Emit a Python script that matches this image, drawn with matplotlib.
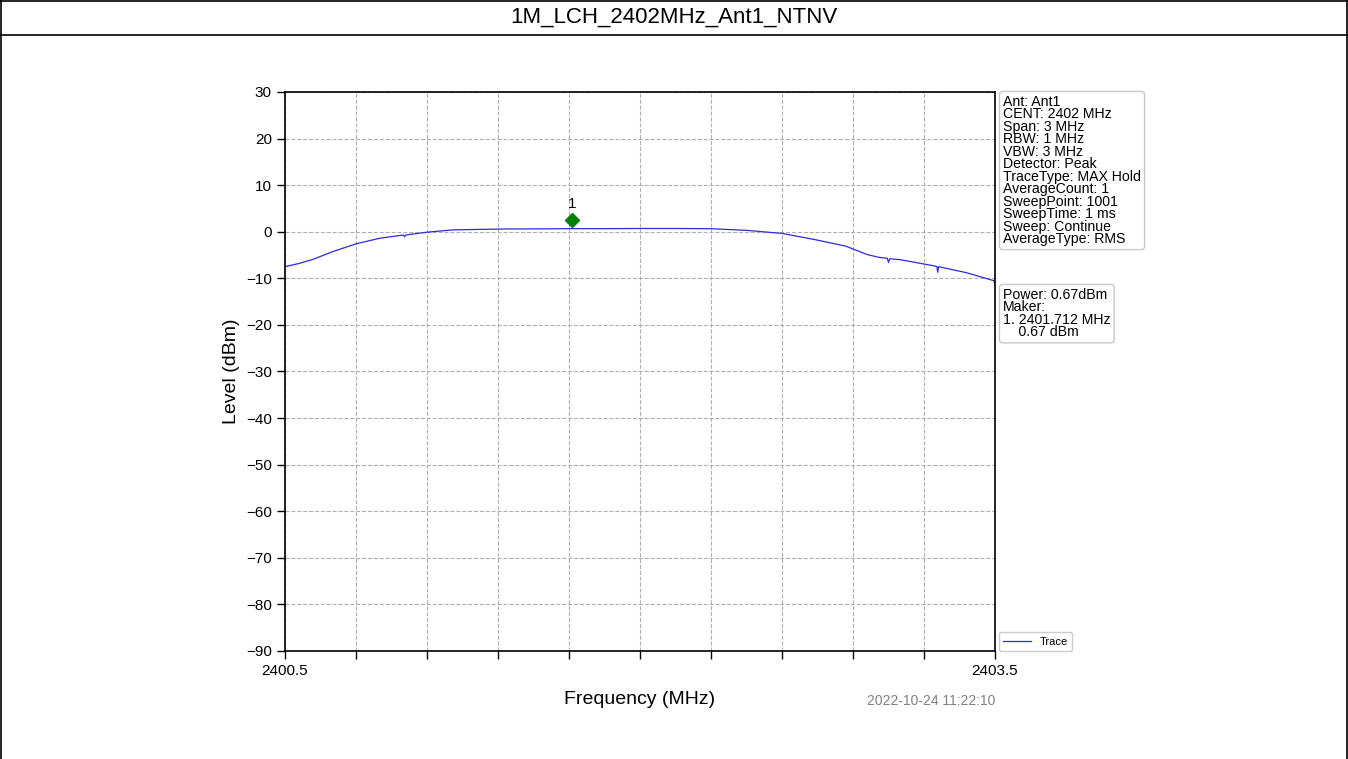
import matplotlib.pyplot as plt
from matplotlib.lines import Line2D

plt.rcParams['font.family'] = ['Liberation Sans', 'DejaVu Sans']

# Trace readings (MHz, dBm)
freq = [2400.50, 2400.56, 2400.62, 2400.70, 2400.80, 2400.90, 2401.000, 2401.005, 2401.010,
        2401.10, 2401.21, 2401.32, 2401.45, 2401.60, 2401.71, 2401.85, 2402.00, 2402.15,
        2402.30, 2402.45, 2402.60, 2402.75, 2402.87, 2402.96, 2403.01,
        2403.045, 2403.050, 2403.055, 2403.10, 2403.24, 2403.255, 2403.258, 2403.262,
        2403.38, 2403.495, 2403.50]
level = [-7.5, -6.8, -5.9, -4.3, -2.6, -1.4, -0.7, -1.1, -0.7,
         -0.1, 0.4, 0.5, 0.6, 0.62, 0.67, 0.66, 0.7, 0.7,
         0.65, 0.3, -0.35, -1.8, -3.1, -4.9, -5.5,
         -5.7, -6.6, -5.8, -6.0, -7.3, -7.5, -8.7, -7.5,
         -8.8, -10.5, -11.2]

ant = 'Ant1'
marker_freq = 2401.712
marker_level = 0.67
marker_plot_level = 2.6

info_lines = ['Ant: Ant1', 'CENT: 2402 MHz', 'Span: 3 MHz', 'RBW: 1 MHz', 'VBW: 3 MHz',
              'Detector: Peak', 'TraceType: MAX Hold', 'AverageCount: 1',
              'SweepPoint: 1001', 'SweepTime: 1 ms', 'Sweep: Continue',
              'AverageType: RMS']
power_lines = ['Power: 0.67dBm', 'Maker:', '1. 2401.712 MHz', '    0.67 dBm']

x_ticks = [2400.5 + 0.3 * i for i in range(11)]
x_labels = ['2400.5'] + [''] * 9 + ['2403.5']
y_ticks = list(range(-90, 31, 10))

fig = plt.figure(figsize=(13.48, 7.59), dpi=100)
ax = fig.add_axes([0.2114, 0.1423, 0.5267, 0.7365])

ax.plot(freq, level, color='#2a2ae0', linewidth=0.9, label='Trace')
ax.plot([marker_freq], [marker_plot_level], marker='D', color='green',
        markersize=7, linestyle='none')
ax.text(marker_freq, marker_plot_level + 1.8, '1', ha='center', va='bottom', fontsize=11)

ax.set_xlim(2400.5, 2403.5)
ax.set_ylim(-90, 30)
ax.set_xticks(x_ticks)
ax.set_xticklabels(x_labels)
ax.set_yticks(y_ticks)
ax.tick_params(labelsize=11, length=6, width=1)
ax.grid(True, linestyle='--', color='#b0b0b0', linewidth=0.8)
ax.set_xlabel('Frequency (MHz)', fontsize=14, labelpad=9)
ax.set_ylabel('Level (dBm)', fontsize=14)
for s in ax.spines.values():
    s.set_linewidth(1.2)

ax.legend(loc='lower left', bbox_to_anchor=(1.005, 0.0), fontsize=8,
          borderaxespad=0, handlelength=2.5, framealpha=1, edgecolor='#cccccc')

box = dict(boxstyle='round,pad=0.25', facecolor='white', edgecolor='#c8c8c8')
fig.text(1003 / 1348, 1 - 95 / 759, '\n'.join(info_lines), fontsize=10.2,
         va='top', ha='left', linespacing=0.86, bbox=box)
fig.text(1003 / 1348, 1 - 288 / 759, '\n'.join(power_lines), fontsize=10.2,
         va='top', ha='left', linespacing=0.86, bbox=box)

fig.text(995 / 1348, 1 - 701 / 759, '2022-10-24 11:22:10', fontsize=10,
         color='#808080', ha='right', va='center')

fig.text(0.5, 1 - 17 / 759, '1M_LCH_2402MHz_Ant1_NTNV', fontsize=16,
         ha='center', va='center')

# page frame
fig.add_artist(Line2D([0.0008, 0.0008], [0, 1], color='black', lw=1.2))
fig.add_artist(Line2D([0.9992, 0.9992], [0, 1], color='black', lw=1.2))
fig.add_artist(Line2D([0, 1], [0.9990, 0.9990], color='black', lw=1.2))
fig.add_artist(Line2D([0, 1], [1 - 35 / 759, 1 - 35 / 759], color='black', lw=1.2))

fig.savefig('out.png', dpi=100)
